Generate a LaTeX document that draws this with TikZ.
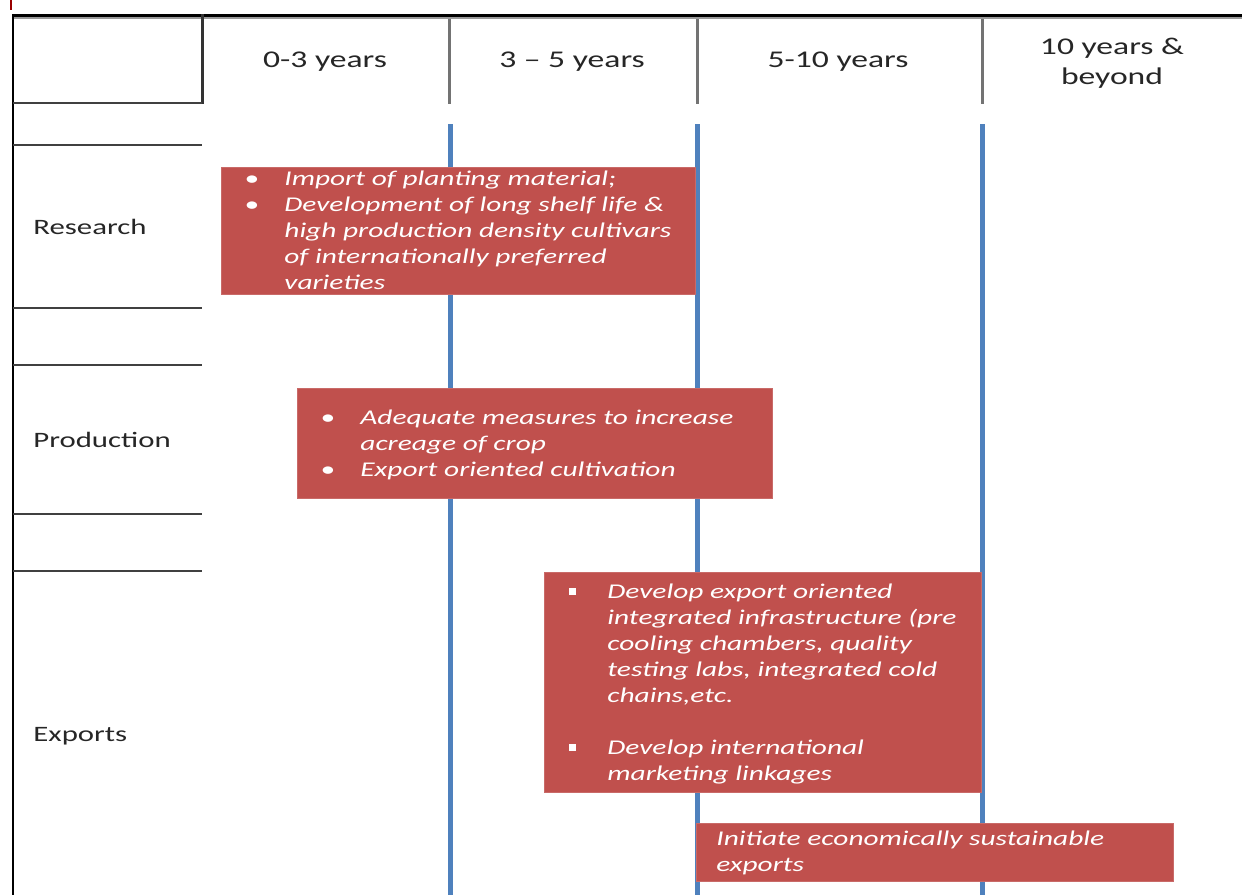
\documentclass[tikz,border=0pt]{standalone}
\usepackage{fontspec}
\setmainfont{Carlito}[FakeStretch=1.4]
\usepackage{xcolor}

\definecolor{boxred}{HTML}{C0504D}
\definecolor{lineblue}{HTML}{4F81BD}

\begin{document}
\begin{tikzpicture}[x=0.5pt,y=-0.5pt,
    hdr/.style={font=\fontsize{12}{15}\selectfont,text=black!85,align=center,inner sep=0pt},
    lbl/.style={font=\fontsize{11}{13}\selectfont,text=black!85,anchor=west,inner sep=0pt},
    redbox/.style={fill=boxred,draw=boxred!85!white,anchor=north west,inner sep=0pt},
    boxtext/.style={font=\fontsize{10.5}{13}\selectfont\itshape,text=white,anchor=base west,inner sep=0pt},
    rowline/.style={black!75,line width=1pt},
    timeline/.style={lineblue,line width=2.5pt}]
    \useasboundingbox (0,0) rectangle (1242,895);

    % frame of the table
    \draw[red!60!black,line width=0.6pt] (11,0) -- (11,10);
    \draw[black,line width=1.5pt] (12,15) -- (1242,15);
    \draw[black!40,line width=1pt] (12,18) -- (1242,18);
    \draw[black,line width=1pt] (13,14) -- (13,895);
    \draw[black!80,line width=1.5pt] (202,14) -- (202,104);
    \draw[rowline] (13,103) -- (202,103);
    \foreach \y in {145,308,365,514,571}
        \draw[rowline] (13,\y) -- (202,\y);
    \foreach \x in {449,697,982}
        \draw[black!55,line width=1.5pt] (\x,19) -- (\x,104);

    % time lines
    \foreach \x in {450,697,982}
        \draw[timeline] (\x,124) -- (\x,895);

    % headers
    \node[hdr] (h03) at (325,62) {0-3 years};
    \node[hdr] (h35) at (572,62) {3 -- 5 years};
    \node[hdr] (h510) at (838,62) {5-10 years};
    \node[hdr] (h10) at (1112,63) {10 years \&\\beyond};

    % rows
    \node[lbl] (research) at (33,227) {Research};
    \node[lbl] (production) at (33,440) {Production};
    \node[lbl] (exports) at (33,736) {Exports};

    % actions
    \node[redbox,minimum width=237pt,minimum height=63.5pt] (resbox) at (221,167) {};
    \node[boxtext] (restext) at (244,185) {\begin{tabular}[t]{@{}p{20pt}@{}l@{}}
        \textbullet & Import of planting material;\\
        \textbullet & Development of long shelf life \&\\
                    & high production density cultivars\\
                    & of internationally preferred\\
                    & varieties
    \end{tabular}};

    \node[redbox,minimum width=237.5pt,minimum height=55pt] (probox) at (297,388) {};
    \node[boxtext] (protext) at (320,424) {\begin{tabular}[t]{@{}p{20pt}@{}l@{}}
        \textbullet & Adequate measures to increase\\
                    & acreage of crop\\
        \textbullet & Export oriented cultivation
    \end{tabular}};

    \node[redbox,minimum width=218.5pt,minimum height=110pt] (expbox) at (544,572) {};
    \node[boxtext] (exptext) at (569,598) {\begin{tabular}[t]{@{}p{19pt}@{}l@{}}
        \rule[1.5pt]{3.5pt}{3.5pt} & Develop export oriented\\
                    & integrated infrastructure (pre\\
                    & cooling chambers, quality\\
                    & testing labs, integrated cold\\
                    & chains,etc.\\
                    & \\
        \rule[1.5pt]{3.5pt}{3.5pt} & Develop international\\
                    & marketing linkages
    \end{tabular}};

    \node[redbox,minimum width=238.5pt,minimum height=29pt] (susbox) at (696,823) {};
    \node[boxtext] (sustext) at (716,845) {\begin{tabular}[t]{@{}l@{}}
        Initiate economically sustainable\\
        exports
    \end{tabular}};
\end{tikzpicture}
\end{document}
